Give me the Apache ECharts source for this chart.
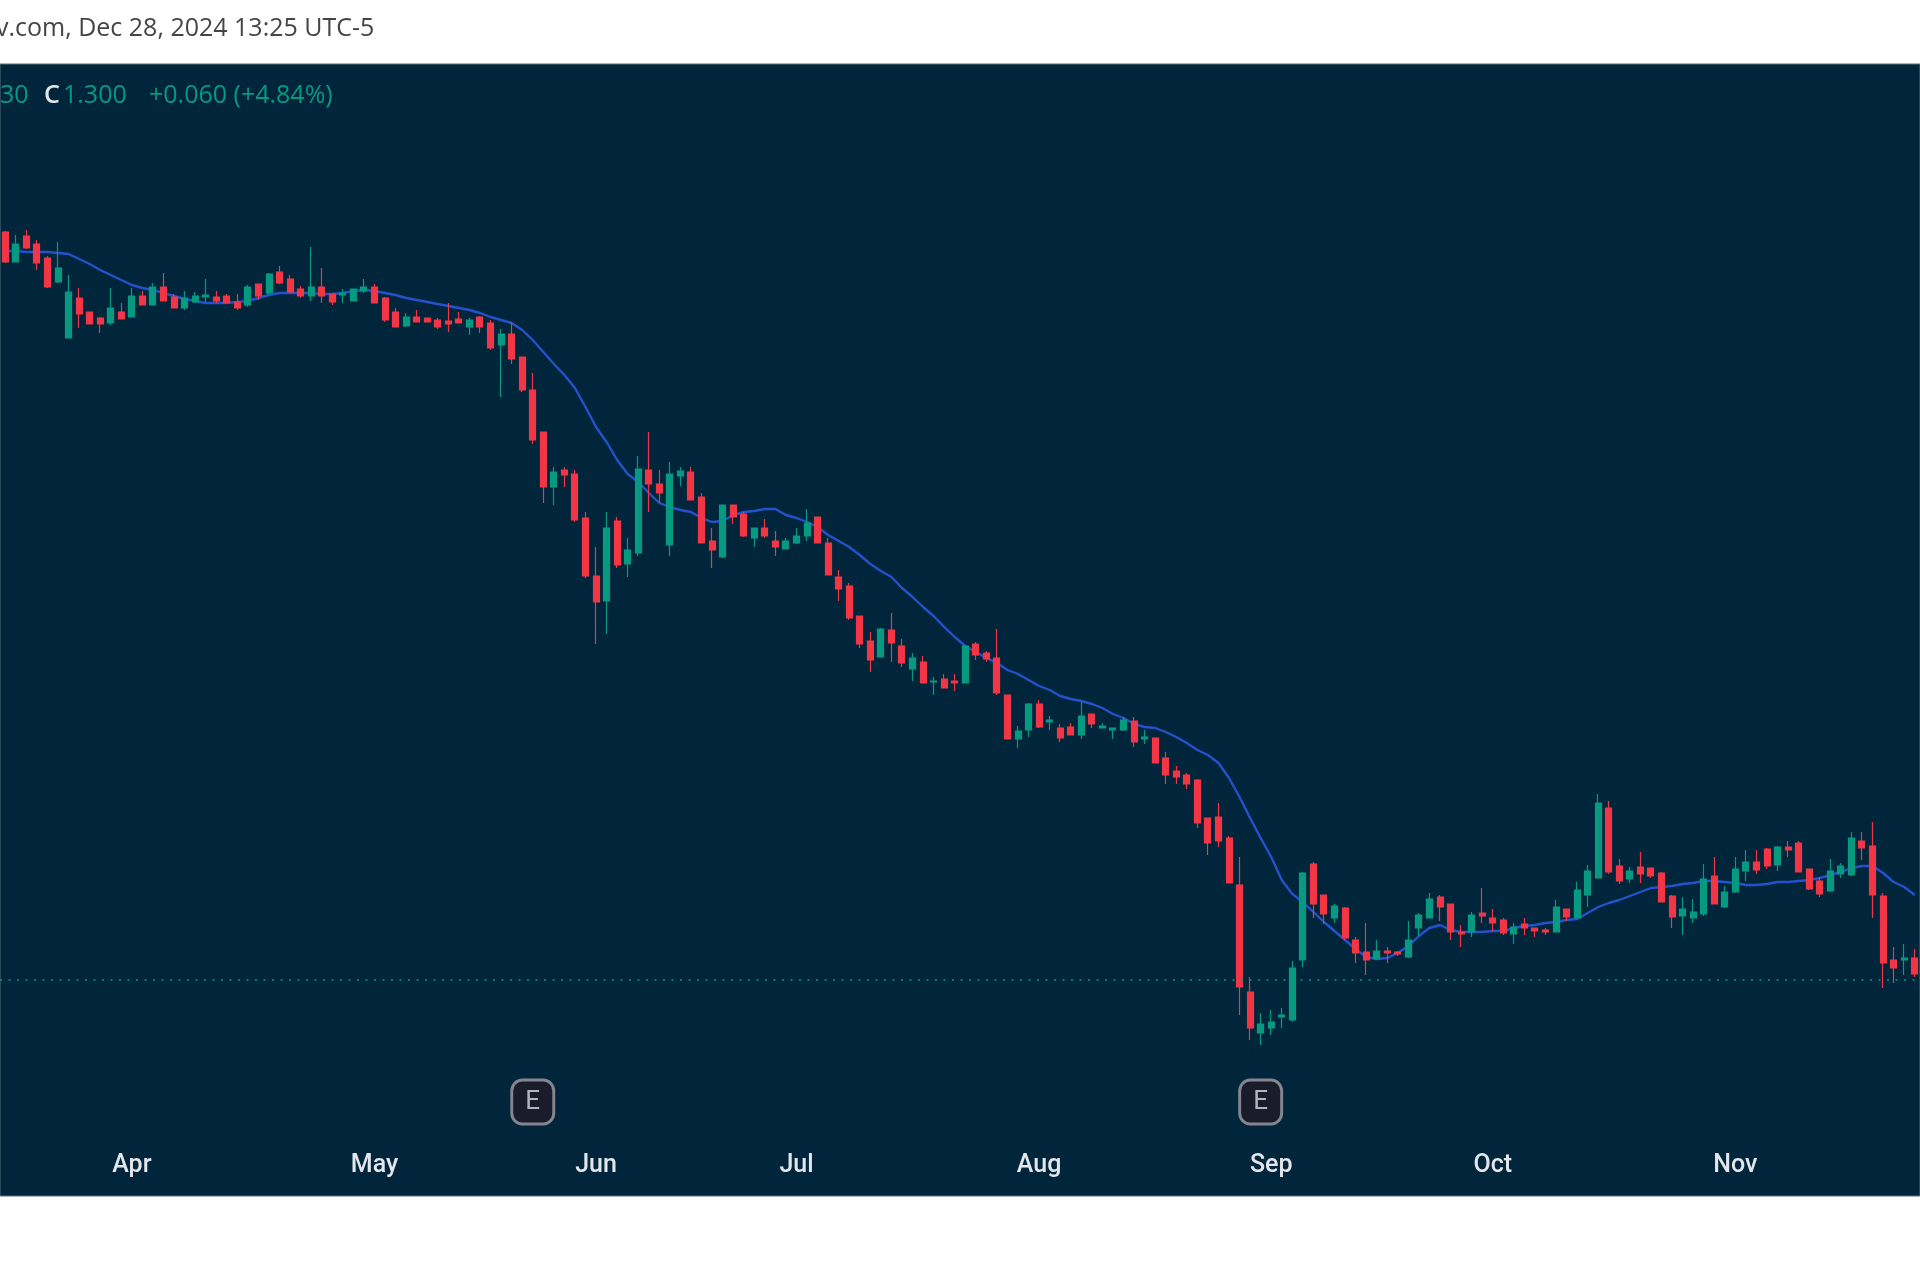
<!DOCTYPE html>
<html>
<head>
<meta charset="utf-8">
<script src="https://cdn.jsdelivr.net/npm/echarts@6/dist/echarts.min.js"></script>
<style>html,body{margin:0;padding:0;background:#fff}#c{width:1920px;height:1280px}</style>
</head>
<body>
<div id="c"></div>
<script>
const monthNames = ['Mar','Apr','May','Jun','Jul','Aug','Sep','Oct','Nov'];
const sessionsPerMonth = [12,23,21,19,23,22,21,23,18];
const earningsSessions = [50,119];
const earningsMarkPrice = 0.69;
const lastPrice = 1.300;

const opens = [
5.040,4.890,5.020,4.980,4.910,4.790,4.510,4.710,4.640,4.610,
4.585,4.640,4.615,4.720,4.675,4.765,4.715,4.660,4.690,4.715,
4.715,4.720,4.690,4.675,4.780,4.735,4.840,4.805,4.755,4.720,
4.765,4.730,4.725,4.695,4.745,4.765,4.710,4.640,4.570,4.615,
4.610,4.600,4.595,4.605,4.565,4.615,4.585,4.475,4.530,4.415,
4.250,4.040,3.765,3.850,3.830,3.610,3.320,3.195,3.595,3.380,
3.435,3.850,3.780,3.475,3.820,3.840,3.715,3.495,3.415,3.675,
3.630,3.510,3.560,3.495,3.455,3.485,3.520,3.615,3.485,3.315,
3.270,3.120,2.995,2.915,3.050,2.970,2.855,2.890,2.790,2.805,
2.795,2.785,2.980,2.935,2.910,2.725,2.505,2.550,2.680,2.590,
2.560,2.565,2.525,2.630,2.560,2.550,2.550,2.595,2.505,2.510,
2.410,2.345,2.325,2.300,2.110,2.115,2.010,1.775,1.240,1.035,
1.060,1.115,1.100,1.400,1.880,1.725,1.610,1.660,1.500,1.440,
1.405,1.445,1.440,1.415,1.560,1.610,1.715,1.680,1.540,1.540,
1.635,1.610,1.600,1.530,1.580,1.560,1.550,1.540,1.655,1.610,
1.725,1.810,2.160,1.870,1.805,1.865,1.860,1.835,1.720,1.620,
1.610,1.630,1.820,1.665,1.740,1.845,1.890,1.955,1.875,1.965,
1.985,1.855,1.795,1.745,1.830,1.825,1.995,1.970,1.720,1.400,
1.400,1.410];

const closes = [
4.890,4.980,4.960,4.885,4.765,4.860,4.740,4.630,4.580,4.580,
4.660,4.605,4.720,4.675,4.765,4.695,4.660,4.710,4.720,4.725,
4.695,4.685,4.660,4.765,4.720,4.830,4.785,4.740,4.720,4.765,
4.720,4.690,4.735,4.755,4.765,4.685,4.600,4.565,4.615,4.590,
4.590,4.565,4.580,4.585,4.600,4.565,4.460,4.530,4.405,4.250,
4.000,3.765,3.840,3.825,3.600,3.320,3.190,3.560,3.375,3.450,
3.855,3.780,3.735,3.830,3.845,3.700,3.485,3.450,3.675,3.615,
3.520,3.560,3.520,3.465,3.495,3.520,3.585,3.485,3.325,3.255,
3.110,2.980,2.900,3.055,2.985,2.885,2.910,2.785,2.795,2.760,
2.785,2.970,2.925,2.905,2.735,2.505,2.545,2.680,2.565,2.600,
2.510,2.525,2.620,2.580,2.570,2.560,2.600,2.490,2.515,2.385,
2.325,2.315,2.280,2.085,1.985,1.995,1.785,1.265,1.060,1.080,
1.090,1.125,1.360,1.835,1.680,1.630,1.670,1.510,1.435,1.400,
1.445,1.435,1.430,1.500,1.625,1.705,1.665,1.540,1.530,1.625,
1.620,1.585,1.535,1.565,1.560,1.545,1.540,1.665,1.615,1.750,
1.845,2.185,1.840,1.795,1.845,1.830,1.820,1.690,1.615,1.655,
1.640,1.805,1.680,1.740,1.855,1.890,1.850,1.870,1.965,1.950,
1.840,1.755,1.730,1.845,1.870,2.010,1.960,1.725,1.385,1.360,
1.410,1.330];

const lows = [
4.885,4.890,4.955,4.850,4.760,4.785,4.510,4.560,4.580,4.535,
4.575,4.605,4.615,4.675,4.675,4.695,4.660,4.650,4.685,4.690,
4.685,4.685,4.650,4.665,4.700,4.725,4.780,4.735,4.710,4.695,
4.685,4.675,4.685,4.695,4.735,4.685,4.590,4.565,4.565,4.590,
4.590,4.555,4.540,4.585,4.525,4.535,4.450,4.215,4.380,4.240,
3.980,3.685,3.675,3.765,3.590,3.310,2.980,3.030,3.360,3.315,
3.420,3.640,3.685,3.420,3.770,3.700,3.485,3.360,3.410,3.580,
3.515,3.465,3.510,3.420,3.455,3.480,3.495,3.485,3.325,3.195,
3.100,2.960,2.840,2.915,2.890,2.865,2.795,2.785,2.725,2.760,
2.745,2.785,2.900,2.890,2.725,2.505,2.460,2.515,2.560,2.550,
2.490,2.525,2.505,2.560,2.560,2.505,2.545,2.465,2.480,2.385,
2.280,2.280,2.255,2.060,1.925,1.965,1.785,1.125,1.000,0.975,
1.025,1.060,1.090,1.365,1.610,1.580,1.585,1.500,1.385,1.325,
1.400,1.385,1.420,1.410,1.520,1.610,1.595,1.500,1.465,1.515,
1.585,1.540,1.525,1.480,1.525,1.515,1.525,1.540,1.595,1.610,
1.665,1.810,1.830,1.780,1.785,1.785,1.810,1.690,1.560,1.525,
1.585,1.620,1.680,1.660,1.735,1.795,1.830,1.855,1.845,1.915,
1.840,1.750,1.715,1.740,1.810,1.820,1.900,1.610,1.260,1.285,
1.325,1.315];

const highs = [
5.045,5.025,5.050,5.000,4.920,4.990,4.825,4.760,4.640,4.615,
4.760,4.685,4.760,4.745,4.785,4.835,4.730,4.745,4.740,4.805,
4.745,4.730,4.730,4.775,4.780,4.835,4.870,4.825,4.770,4.965,
4.860,4.735,4.755,4.755,4.805,4.780,4.715,4.660,4.635,4.650,
4.610,4.610,4.685,4.640,4.610,4.620,4.600,4.555,4.590,4.415,
4.335,4.040,3.865,3.865,3.850,3.640,3.465,3.640,3.615,3.510,
3.920,4.040,3.850,3.890,3.865,3.865,3.735,3.560,3.675,3.675,
3.640,3.560,3.605,3.545,3.510,3.560,3.655,3.615,3.510,3.350,
3.285,3.120,3.040,3.060,3.135,3.005,2.935,2.920,2.815,2.830,
2.830,2.970,2.990,2.945,3.055,2.725,2.570,2.685,2.700,2.620,
2.580,2.585,2.690,2.630,2.585,2.560,2.615,2.615,2.550,2.510,
2.440,2.370,2.335,2.305,2.110,2.185,2.020,1.915,1.315,1.135,
1.150,1.160,1.395,1.840,1.890,1.725,1.680,1.665,1.515,1.585,
1.500,1.465,1.445,1.595,1.635,1.735,1.725,1.680,1.575,1.640,
1.760,1.655,1.610,1.585,1.610,1.560,1.560,1.700,1.655,1.790,
1.875,2.230,2.195,1.905,1.865,1.940,1.860,1.840,1.725,1.715,
1.705,1.880,1.915,1.770,1.915,1.950,1.950,1.960,1.970,1.995,
1.995,1.855,1.815,1.905,1.885,2.040,2.040,2.090,1.735,1.465,
1.480,1.455];

const movingAverage = [
4.945,4.945,4.940,4.940,4.940,4.935,4.930,4.905,4.880,4.850,
4.825,4.800,4.775,4.760,4.750,4.735,4.720,4.705,4.695,4.685,
4.685,4.685,4.690,4.695,4.710,4.725,4.735,4.735,4.735,4.735,
4.730,4.730,4.735,4.745,4.750,4.745,4.735,4.725,4.710,4.700,
4.690,4.680,4.670,4.660,4.650,4.635,4.615,4.600,4.585,4.550,
4.500,4.440,4.380,4.325,4.260,4.165,4.065,3.990,3.900,3.830,
3.790,3.735,3.685,3.665,3.650,3.640,3.610,3.590,3.595,3.625,
3.640,3.645,3.655,3.655,3.625,3.610,3.590,3.565,3.525,3.495,
3.465,3.425,3.380,3.345,3.315,3.260,3.215,3.165,3.120,3.065,
3.015,2.970,2.940,2.910,2.885,2.850,2.830,2.800,2.770,2.750,
2.720,2.705,2.695,2.680,2.660,2.630,2.610,2.580,2.565,2.560,
2.540,2.515,2.485,2.450,2.425,2.385,2.310,2.215,2.110,2.010,
1.915,1.800,1.730,1.690,1.640,1.590,1.545,1.500,1.455,1.415,
1.405,1.410,1.435,1.470,1.520,1.560,1.575,1.550,1.540,1.540,
1.540,1.545,1.545,1.560,1.570,1.575,1.585,1.590,1.600,1.605,
1.635,1.665,1.685,1.700,1.720,1.740,1.760,1.765,1.770,1.780,
1.785,1.795,1.795,1.790,1.785,1.775,1.775,1.780,1.790,1.790,
1.795,1.800,1.810,1.825,1.840,1.860,1.870,1.870,1.835,1.790,
1.765,1.725];

// sessions, labelled by month, and the first session of each month gets the tick label
const categories = [];
const monthTicks = {};
monthNames.forEach((m, k) => {
  if (k > 0) monthTicks[categories.length] = m;
  for (let d = 1; d <= sessionsPerMonth[k]; d++) categories.push(m + ' ' + d);
});

const UP = '#089981', DOWN = '#F23645', BG = '#01263B', BLUE = '#2452CC';
const candleData = opens.map((o, i) => [o, closes[i], lows[i], highs[i]]);
const earningsData = earningsSessions.map(i => [i, earningsMarkPrice]);

const chart = echarts.init(document.getElementById('c'), null, {renderer: 'canvas'});
const headerFont = '"Open Sans", sans-serif';
chart.setOption({
  animation: false,
  backgroundColor: '#ffffff',
  grid: {show: true, left: -1.3, top: 64, width: 1927.4, height: 1132,
         backgroundColor: BG, borderColor: '#56707f', borderWidth: 1},
  xAxis: {
    type: 'category', data: categories, boundaryGap: true,
    axisLine: {show: false}, axisTick: {show: false}, splitLine: {show: false},
    axisLabel: {
      inside: true, margin: 18, color: '#E3E6EA', fontSize: 25, fontWeight: 500,
      fontFamily: 'Roboto, sans-serif',
      interval: (index) => monthTicks[index] !== undefined,
      formatter: (value, index) => monthTicks[index] || ''
    }
  },
  yAxis: {type: 'value', min: 0.22, max: 5.88, show: false, splitLine: {show: false}},
  series: [
    {type: 'line', data: movingAverage, showSymbol: false, symbol: 'none', z: 2,
     lineStyle: {color: BLUE, width: 2.4}, silent: true},
    {type: 'candlestick', data: candleData, barWidth: 6.5, z: 3, silent: true,
     itemStyle: {color: UP, color0: DOWN, borderColor: UP, borderColor0: DOWN, borderWidth: 1.2},
     markLine: {silent: true, symbol: 'none', label: {show: false}, animation: false,
       lineStyle: {color: UP, type: [2, 6.5], width: 1.5},
       data: [{yAxis: lastPrice}]}},
    {type: 'scatter', data: earningsData, symbol: 'roundRect', symbolSize: [42, 44], z: 4, silent: true,
     itemStyle: {color: '#1A1C2C', borderColor: '#85858F', borderWidth: 3, opacity: 1},
     label: {show: true, position: 'inside', formatter: 'E', color: '#B2B5BE',
             fontSize: 26, fontFamily: 'Roboto, sans-serif'}}
  ],
  graphic: [
    {type: 'text', left: -4, top: 16, z: 10, style: {text: 'v.com, Dec 28, 2024 13:25 UTC-5', fill: '#454545', font: '25px ' + headerFont}},
    {type: 'text', left: 0, top: 83, z: 10, style: {text: '30', fill: UP, font: '25px ' + headerFont}},
    {type: 'text', left: 44, top: 83, z: 10, style: {text: 'C', fill: '#E3E6EA', font: '600 25px ' + headerFont}},
    {type: 'text', left: 63, top: 83, z: 10, style: {text: '1.300', fill: UP, font: '25px ' + headerFont}},
    {type: 'text', left: 149, top: 83, z: 10, style: {text: '+0.060 (+4.84%)', fill: UP, font: '25px ' + headerFont}}
  ]
});
</script>
</body>
</html>
